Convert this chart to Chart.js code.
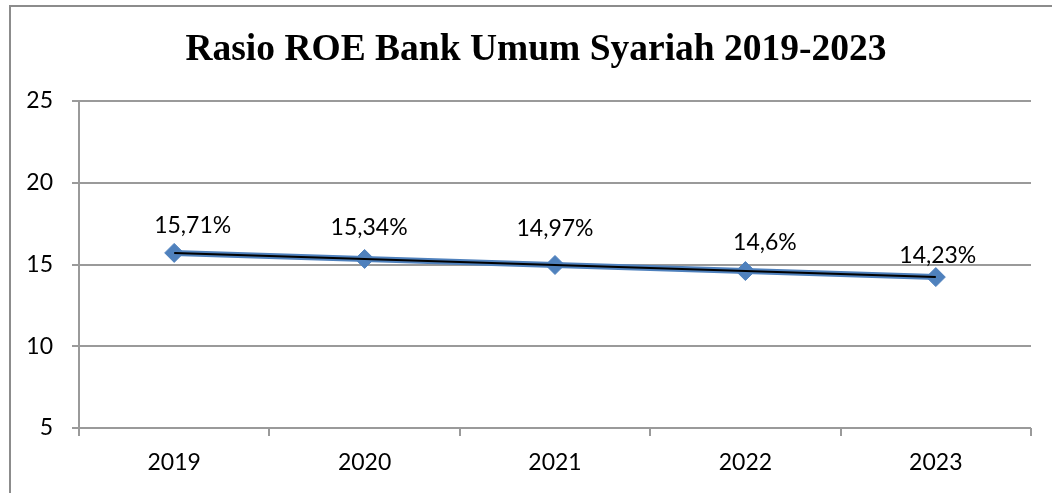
<!DOCTYPE html>
<html>
<head>
<meta charset="utf-8">
<script src="https://cdn.jsdelivr.net/npm/chart.js@4"></script>
<style>
  html, body { margin: 0; padding: 0; background: #fff; overflow: hidden; }
  #frame {
    position: absolute; left: 9px; top: 5px; width: 1200px; height: 600px;
    border-left: 2px solid #8c8c8c; border-top: 2px solid #8c8c8c;
  }
  #roeChart { position: absolute; left: 0; top: 0; }
</style>
</head>
<body>
<div id="frame"></div>
<canvas id="roeChart" width="1052" height="493"></canvas>
<script>
// ROE of Islamic commercial banks, percent
const years = ["2019", "2020", "2021", "2022", "2023"];
const roeValues = [15.71, 15.34, 14.97, 14.6, 14.23];
const yTicks = [5, 10, 15, 20, 25];

const gridGray = "#9a9a9a";
const labelFont = { family: "Lato", size: 23 };

// value labels above the points, nudged a bit like in the report
const valueLabels = {
  id: "valueLabels",
  afterDatasetsDraw(chart, args, opts) {
    const ctx = chart.ctx;
    const meta = chart.getDatasetMeta(opts.datasetIndex);
    const values = chart.data.datasets[opts.datasetIndex].data;
    ctx.save();
    ctx.font = labelFont.size + "px " + labelFont.family;
    ctx.fillStyle = "#000";
    ctx.textAlign = "center";
    ctx.textBaseline = "alphabetic";
    meta.data.forEach((pt, i) => {
      const shift = opts.shift[i] || [0, -20];
      const text = String(values[i]).replace(".", ",") + "%";
      ctx.fillText(text, pt.x + shift[0], pt.y + shift[1]);
    });
    ctx.restore();
  },
};

// heading drawn a little right of the canvas middle, the built-in title
// can only center on the full width
const heading = {
  id: "heading",
  afterDraw(chart, args, opts) {
    const ctx = chart.ctx;
    ctx.save();
    ctx.font = "bold " + opts.size + "px 'Liberation Serif'";
    ctx.fillStyle = "#000";
    ctx.textAlign = "center";
    ctx.textBaseline = "alphabetic";
    ctx.fillText(opts.text, chart.width / 2 + opts.shiftX, opts.baseline);
    ctx.restore();
  },
};

new Chart("roeChart", {
  type: "line",
  data: {
    labels: years,
    datasets: [
      {
        // black line on top
        data: roeValues,
        borderColor: "#000",
        borderWidth: 2,
        pointRadius: 0,
        fill: false,
        order: 0,
      },
      {
        // blue line with diamond markers underneath
        data: roeValues,
        borderColor: "#4f81bd",
        borderWidth: 6,
        pointStyle: "rectRot",
        pointRadius: 9.5,
        pointBackgroundColor: "#4f81bd",
        pointBorderColor: "#4f81bd",
        pointBorderWidth: 1,
        fill: false,
        order: 1,
      },
    ],
  },
  options: {
    responsive: false,
    animation: false,
    layout: { padding: { left: 0, right: 21, top: 101, bottom: 0 } },
    plugins: {
      legend: { display: false },
      tooltip: { enabled: false },
      title: { display: false },
      heading: {
        text: "Rasio ROE Bank Umum Syariah 2019-2023",
        size: 37.5,
        shiftX: 10,
        baseline: 60,
      },
      valueLabels: {
        datasetIndex: 1,
        shift: [[18.5, -20], [4.5, -24], [0, -29], [19.5, -21], [2, -14]],
      },
    },
    scales: {
      x: {
        offset: true,
        grid: {
          offset: true,
          drawOnChartArea: false,
          tickLength: 8,
          color: gridGray,
          lineWidth: 2,
        },
        border: { display: false },
        ticks: { color: "#000", font: labelFont, padding: 13, maxRotation: 0 },
        afterFit(scale) { scale.height = 65; },
      },
      y: {
        min: 5,
        max: 25,
        afterBuildTicks(scale) { scale.ticks = yTicks.map((v) => ({ value: v })); },
        grid: { color: gridGray, lineWidth: 2, tickLength: 7 },
        border: { color: gridGray, width: 2 },
        ticks: { color: "#000", font: labelFont, padding: 19 },
        afterFit(scale) { scale.width = 79; },
      },
    },
  },
  plugins: [valueLabels, heading],
});
</script>
</body>
</html>
